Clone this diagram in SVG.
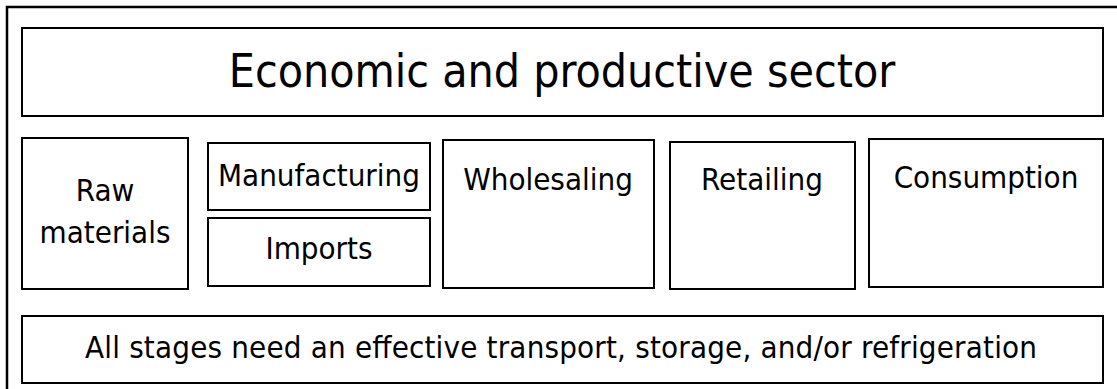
<svg xmlns="http://www.w3.org/2000/svg" width="1117" height="389" viewBox="0 0 1117 389">
<style>
.box{fill:#fff;stroke:#000;stroke-width:2}
.frame{fill:#fff;stroke:#000;stroke-width:2.5}
text{font-family:"DejaVu Sans Condensed","DejaVu Sans",sans-serif;font-stretch:condensed;fill:#000;text-anchor:middle}
.big{font-size:46px}
.mid{font-size:31px}
</style>
<rect class="frame" x="7" y="7" width="1120" height="400"/>
<g id="sector">
<rect class="box" x="22" y="28" width="1081" height="88"/>
<text class="big" x="562" y="87">Economic and productive sector</text>
</g>
<g id="raw">
<rect class="box" x="22" y="138" width="166" height="151"/>
<text class="mid" x="105" y="201">Raw</text>
<text class="mid" x="105" y="243">materials</text>
</g>
<g id="manufacturing">
<rect class="box" x="208" y="143" width="222" height="67"/>
<text class="mid" x="319" y="186">Manufacturing</text>
</g>
<g id="imports">
<rect class="box" x="208" y="218" width="222" height="68"/>
<text class="mid" x="319" y="259">Imports</text>
</g>
<g id="wholesaling">
<rect class="box" x="443" y="140" width="211" height="148"/>
<text class="mid" x="548" y="190">Wholesaling</text>
</g>
<g id="retailing">
<rect class="box" x="670" y="142" width="185" height="147"/>
<text class="mid" x="762" y="190">Retailing</text>
</g>
<g id="consumption">
<rect class="box" x="869" y="139" width="234" height="148"/>
<text class="mid" x="986" y="188">Consumption</text>
</g>
<g id="transport">
<rect class="box" x="22" y="316" width="1081" height="67"/>
<text class="mid" x="561" y="358" textLength="952" lengthAdjust="spacing">All stages need an effective transport, storage, and/or refrigeration</text>
</g>
<g id="connectors"/>
</svg>
